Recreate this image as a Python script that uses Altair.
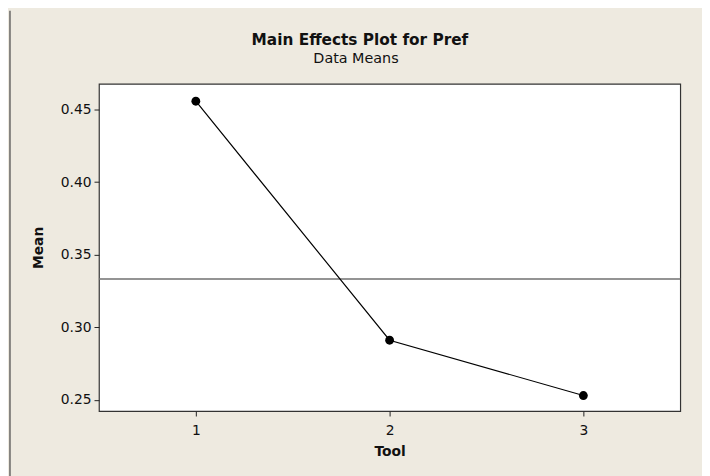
import altair as alt
import pandas as pd

tools = [1, 2, 3]
means = [0.4557, 0.2911, 0.2530]
overall_mean = [0.3333]
title_text = ["Main Effects Plot for Pref"]
subtitle_text = ["Data Means"]

df = pd.DataFrame({"Tool": tools, "Mean": means})
ref = pd.DataFrame({"m": overall_mean})

FONT = "DejaVu Sans"
BG = "#EEEAE0"

x_enc = alt.X("Tool:Q",
              scale=alt.Scale(domain=[0.5, 3.5], nice=False, zero=False),
              axis=alt.Axis(values=tools, format="d", title="Tool", grid=False,
                            domain=False, tickSize=5, tickColor="#222",
                            labelPadding=8, titlePadding=7,
                            labelFont=FONT, labelFontSize=14, labelColor="#111",
                            titleFont=FONT, titleFontSize=14, titleFontWeight="bold",
                            titleColor="#111"))
y_enc = alt.Y("Mean:Q",
              scale=alt.Scale(domain=[0.2423, 0.4677], nice=False, zero=False),
              axis=alt.Axis(values=[0.25, 0.30, 0.35, 0.40, 0.45], format=".2f",
                            title="Mean", grid=False, domain=False, tickSize=5,
                            tickColor="#222", labelPadding=3, titlePadding=15,
                            labelFont=FONT, labelFontSize=14, labelColor="#111",
                            titleFont=FONT, titleFontSize=14, titleFontWeight="bold",
                            titleColor="#111"))

line = alt.Chart(df).mark_line(color="black", strokeWidth=1.2).encode(x=x_enc, y=y_enc)
pts = alt.Chart(df).mark_circle(color="black", opacity=1, size=80).encode(x="Tool:Q", y="Mean:Q")
rule = alt.Chart(ref).mark_rule(color="#707070", strokeWidth=1.5).encode(y="m:Q")
frame = alt.Chart(ref).mark_rule(color="#444", strokeWidth=1.2, clip=False).encode(
    x=alt.value(-90), y=alt.value(-74), y2=alt.value(400))
title = alt.Chart(pd.DataFrame({"t": title_text})).mark_text(
    font=FONT, fontSize=15.5, fontWeight="bold", color="#111", align="center",
    baseline="alphabetic", clip=False).encode(text="t:N", x=alt.value(264), y=alt.value(-39))
subtitle = alt.Chart(pd.DataFrame({"t": subtitle_text})).mark_text(
    font=FONT, fontSize=14.5, color="#111", align="center",
    baseline="alphabetic", clip=False).encode(text="t:N", x=alt.value(260), y=alt.value(-21))

chart = alt.layer(rule, line, pts, frame, title, subtitle).properties(
    width=588, height=331,
    background=BG,
    padding={"left": 92, "top": 74, "right": 22, "bottom": 63},
    autosize=alt.AutoSizeParams(type="none"),
).configure_view(fill="white", stroke="#333", strokeWidth=1.2)

chart.save("out.html", embed_options={"renderer": "svg", "actions": False})
